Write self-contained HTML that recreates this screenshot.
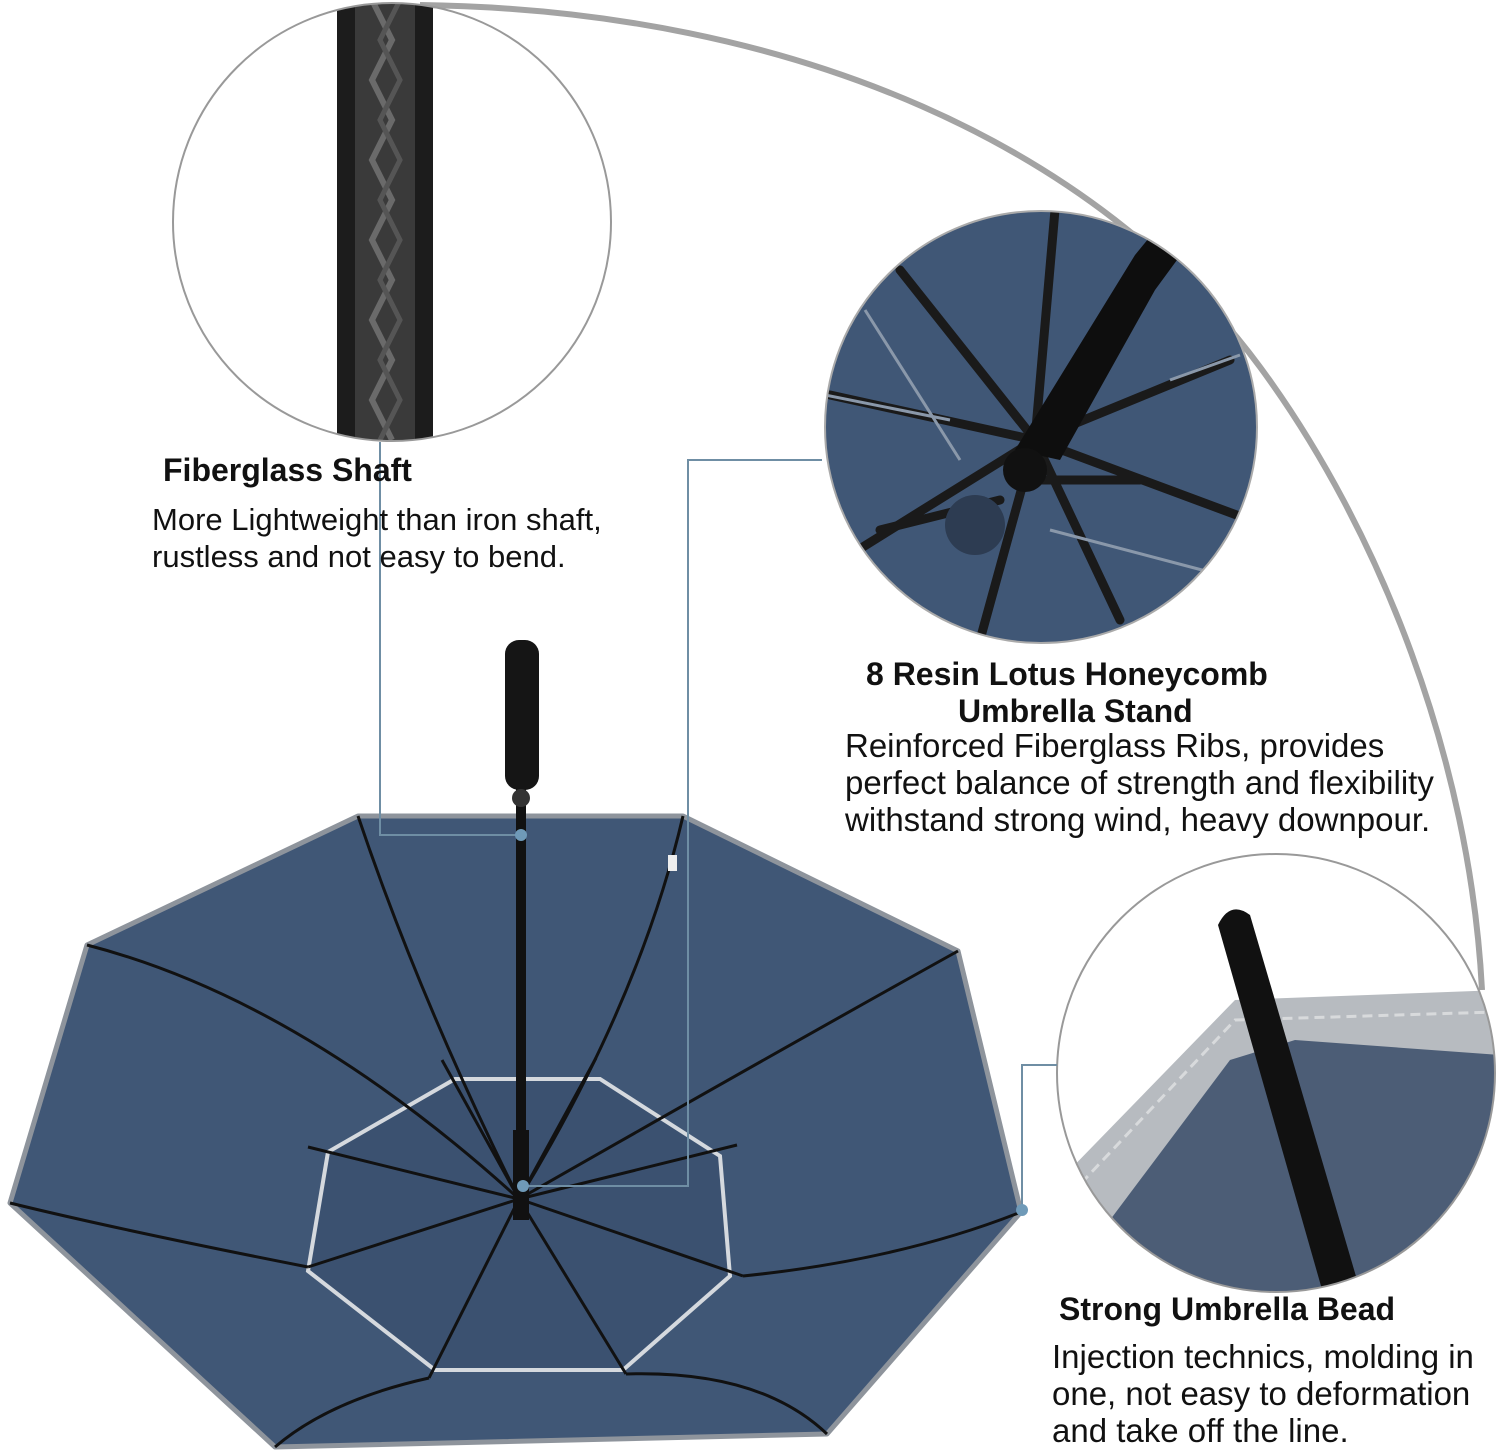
<!DOCTYPE html>
<html><head><meta charset="utf-8"><style>
body{margin:0;background:#fff;width:1500px;height:1454px;overflow:hidden;position:relative;font-family:"Liberation Sans",Arial,sans-serif;color:#111}
svg{position:absolute;left:0;top:0}
.t{position:absolute;white-space:nowrap}
.h{font-weight:bold;font-size:32px}
.b{font-size:33px;line-height:37px}
</style></head><body>
<svg width="1500" height="1454" viewBox="0 0 1500 1454">
<defs>
<clipPath id="c1"><circle cx="392" cy="222" r="219"/></clipPath>
<clipPath id="c2"><circle cx="1041" cy="427" r="216"/></clipPath>
<clipPath id="c3"><circle cx="1276" cy="1073" r="219"/></clipPath>
</defs>
<!-- big arc -->
<path d="M420,5 C800,10 1100,150 1260,367 C1380,530 1470,760 1482,990" fill="none" stroke="#a3a3a3" stroke-width="6"/>
<!-- circle1 -->
<g clip-path="url(#c1)">
<rect x="337" y="0" width="96" height="450" fill="#1c1c1c"/>
<rect x="355" y="0" width="60" height="450" fill="#3a3a3a"/>
<path d="M372,0 L392,40 L372,80 L392,120 L372,160 L392,200 L372,240 L392,280 L372,320 L392,360 L372,400 L392,440" stroke="#6a6a6a" stroke-width="6" fill="none"/>
<path d="M400,0 L380,40 L400,80 L380,120 L400,160 L380,200 L400,240 L380,280 L400,320 L380,360 L400,400 L380,440" stroke="#555" stroke-width="5" fill="none"/>
</g>
<circle cx="392" cy="222" r="219" fill="none" stroke="#999" stroke-width="2"/>
<!-- circle2 -->
<g clip-path="url(#c2)">
<rect x="820" y="200" width="450" height="450" fill="#405776"/>
<g stroke="#1a1a1a" stroke-width="9" stroke-linecap="round" fill="none">
<line x1="1035" y1="440" x2="900" y2="270"/>
<line x1="1035" y1="440" x2="830" y2="395"/>
<line x1="1035" y1="440" x2="850" y2="555"/>
<line x1="1035" y1="440" x2="980" y2="640"/>
<line x1="1035" y1="440" x2="1120" y2="620"/>
<line x1="1035" y1="440" x2="1250" y2="520"/>
<line x1="1035" y1="440" x2="1230" y2="360"/>
<line x1="1035" y1="440" x2="1055" y2="210"/>
<line x1="1000" y1="500" x2="880" y2="530"/>
<line x1="1040" y1="480" x2="1140" y2="480"/>
</g>
<g stroke="#8a98aa" stroke-width="3" fill="none">
<line x1="865" y1="310" x2="960" y2="460"/>
<line x1="825" y1="395" x2="950" y2="420"/>
<line x1="1050" y1="530" x2="1240" y2="580"/>
<line x1="1170" y1="380" x2="1240" y2="355"/>
</g>
<path d="M1015,450 L1135,255 L1180,200 L1210,215 L1155,290 L1060,460 Z" fill="#0e0e0e"/>
<circle cx="1025" cy="470" r="22" fill="#111"/>
<circle cx="975" cy="525" r="30" fill="#2d3c52"/>
</g>
<circle cx="1041" cy="427" r="216" fill="none" stroke="#aaa" stroke-width="2"/>
<!-- circle3 -->
<g clip-path="url(#c3)">
<rect x="1050" y="850" width="450" height="450" fill="#fff"/>
<path d="M1060,1180 L1235,1000 L1500,990 L1500,1300 L1060,1300 Z" fill="#b7bbc0"/>
<path d="M1110,1220 L1230,1060 L1295,1040 L1500,1055 L1500,1300 L1110,1300 Z" fill="#4c5d76"/>
<path d="M1070,1195 L1235,1020 L1495,1012" stroke="#d8dadc" stroke-width="3" fill="none" stroke-dasharray="10,6"/>
<path d="M1218,925 Q1230,900 1250,915 L1360,1290 L1325,1300 Z" fill="#111"/>
</g>
<circle cx="1276" cy="1073" r="219" fill="none" stroke="#999" stroke-width="2"/>
<!-- umbrella -->
<polygon points="358,816 683,816 958,951 1021,1212 827,1434 275,1447 10,1203 87,945" fill="#405776" stroke="#8e949c" stroke-width="5" stroke-linejoin="round"/>
<polygon points="455,1079 600,1079 720,1156 730,1276 623,1370 435,1370 308,1271 328,1152" fill="#3b5170" stroke="#d5d9de" stroke-width="4"/>
<g stroke="#111" stroke-width="3" fill="none">
<path d="M519,1199 Q420,1000 358,816"/>
<path d="M519,1199 Q640,1000 683,816"/>
<path d="M519,1199 Q300,1000 87,945"/>
<path d="M519,1199 Q780,1050 958,951"/>
<path d="M308,1267 Q120,1230 10,1203"/>
<path d="M743,1276 Q900,1260 1021,1212"/>
<path d="M429,1378 Q330,1400 275,1447"/>
<path d="M626,1374 Q760,1370 827,1434"/>
<line x1="519" y1="1199" x2="308" y2="1267"/>
<line x1="519" y1="1199" x2="743" y2="1276"/>
<line x1="519" y1="1199" x2="308" y2="1147"/>
<line x1="519" y1="1199" x2="737" y2="1145"/>
<line x1="519" y1="1199" x2="429" y2="1378"/>
<line x1="519" y1="1199" x2="626" y2="1374"/>
<line x1="519" y1="1199" x2="442" y2="1060"/>
<line x1="519" y1="1199" x2="596" y2="1058"/>
</g>
<rect x="516" y="780" width="10" height="420" fill="#111"/>
<rect x="513" y="1130" width="16" height="90" fill="#111"/>
<rect x="505" y="640" width="34" height="150" rx="14" fill="#151515"/>
<circle cx="521" cy="798" r="9" fill="#333"/>
<rect x="668" y="855" width="9" height="16" fill="#eee"/>
<!-- connectors -->
<g stroke="#6f8ea4" stroke-width="2" fill="none">
<polyline points="380,442 380,835 521,835"/>
<polyline points="822,460 688,460 688,1186 523,1186"/>
<polyline points="1057,1065 1022,1065 1022,1210"/>
</g>
<circle cx="521" cy="835" r="6" fill="#6f9ab8"/>
<circle cx="523" cy="1186" r="6" fill="#6f9ab8"/>
<circle cx="1022" cy="1210" r="6" fill="#6f9ab8"/>
</svg>
<div class="t h" style="left:163px;top:452px">Fiberglass Shaft</div>
<div class="t b" style="left:152px;top:501px;font-size:31px">More Lightweight than iron shaft,<br>rustless and not easy to bend.</div>
<div class="t h" style="left:866px;top:656px">8 Resin Lotus Honeycomb</div>
<div class="t h" style="left:958px;top:693px">Umbrella Stand</div>
<div class="t b" style="left:845px;top:727px">Reinforced Fiberglass Ribs, provides<br>perfect balance of strength and flexibility<br>withstand strong wind, heavy downpour.</div>
<div class="t h" style="left:1059px;top:1291px">Strong Umbrella Bead</div>
<div class="t b" style="left:1052px;top:1338px">Injection technics, molding in<br>one, not easy to deformation<br>and take off the line.</div>
</body></html>
